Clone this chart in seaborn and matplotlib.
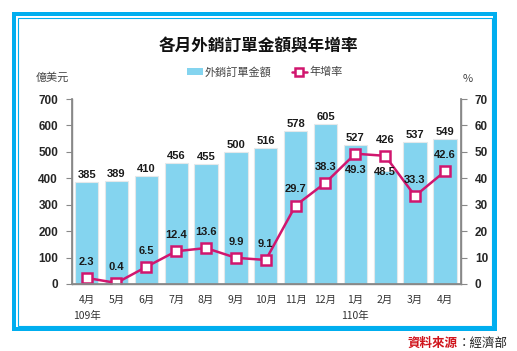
import numpy as np
import pandas as pd
import seaborn as sns
import matplotlib.pyplot as plt
from matplotlib.patches import Rectangle, Patch
from matplotlib.lines import Line2D

# Data
months = ['4月', '5月', '6月', '7月', '8月', '9月', '10月', '11月', '12月',
          '1月', '2月', '3月', '4月']
orders = [385, 389, 410, 456, 455, 500, 516, 578, 605, 527, 426, 537, 549]
growth = [2.3, 0.4, 6.5, 12.4, 13.6, 9.9, 9.1, 29.7, 38.3, 49.3, 48.5, 33.3, 42.6]
years = ['109年', '110年']

sns.set_theme(style="white")
plt.rcParams['font.family'] = ['Noto Sans CJK TC', 'DejaVu Sans']
num_font = ['Liberation Sans Narrow', 'Liberation Sans', 'DejaVu Sans']

bar_color = '#84D4EF'
line_color = '#D1166E'
frame_color = '#00AEEF'

f = plt.figure(figsize=(5.17, 3.51), dpi=100)
W, H = 517, 351

# Frame
f.patches.append(Rectangle((12 / W, 1 - 331 / H), 485 / W, 319 / H,
                           transform=f.transFigure, facecolor=frame_color,
                           edgecolor='none', zorder=-3))
f.patches.append(Rectangle((16 / W, 1 - 327 / H), 477 / W, 311 / H,
                           transform=f.transFigure, facecolor='white',
                           edgecolor='none', zorder=-2))
f.patches.append(Rectangle((17.5 / W, 1 - 325.5 / H), 474 / W, 308 / H,
                           transform=f.transFigure, facecolor='none',
                           edgecolor=frame_color, linewidth=0.8, zorder=-1))

ax = f.add_axes([72 / W, 1 - 284 / H, 389 / W, 185 / H])
ax.patch.set_alpha(0)

df = pd.DataFrame({'month': np.arange(13), 'orders': orders})
sns.barplot(data=df, x='month', y='orders', ax=ax, color=bar_color,
            saturation=1, width=0.78, edgecolor='#E4E8EA', linewidth=0.8,
            native_scale=True)
ax.set_ylim(0, 700)
ax.set_yticks(range(0, 701, 100))
ax.set_xlim(-0.49, 12.54)
ax.set_xticks(range(13))
ax.set_xticklabels(months, fontsize=7.5, color='#333333')
ax.set_xlabel('')
ax.set_ylabel('')
for lab in ax.get_yticklabels():
    lab.set_fontfamily(num_font)
    lab.set_fontweight('bold')
    lab.set_fontsize(8.5)
ax.tick_params(axis='y', left=True, length=4, width=0.8, color='#888888', pad=6)
ax.tick_params(axis='x', bottom=False, pad=2)
ax.spines['top'].set_visible(False)
for s in ['left', 'bottom', 'right']:
    ax.spines[s].set_color('#888888')
    ax.spines[s].set_linewidth(1.0)

# Bar labels (lifted above the growth marker where they would collide)
for i, v in enumerate(orders):
    y = v + 8
    if v < growth[i] * 10 < v + 60:
        y = growth[i] * 10 + 40
    ax.text(i, y, str(v), ha='center', va='bottom', fontsize=8,
            fontweight='bold', family=num_font, color='#1a1a1a')

# Growth line
ax2 = ax.twinx()
sns.lineplot(x=np.arange(13), y=growth, ax=ax2, color=line_color,
             linewidth=1.8, marker='s', markersize=7,
             markerfacecolor='white', markeredgecolor=line_color,
             markeredgewidth=1.8)
ax2.set_ylim(0, 70)
ax2.set_yticks(range(0, 71, 10))
ax2.set_xlim(-0.49, 12.54)
for lab in ax2.get_yticklabels():
    lab.set_fontfamily(num_font)
    lab.set_fontweight('bold')
    lab.set_fontsize(8.5)
ax2.tick_params(axis='y', right=True, length=4, width=0.8, color='#888888', pad=6)
ax2.spines['top'].set_visible(False)
for s in ['left', 'bottom', 'right']:
    ax2.spines[s].set_color('#888888')

for i, v in enumerate(growth):
    below = i in (9, 10)
    ax2.annotate(f'{v:.1f}', (i, v), xytext=(0, -8 if below else 8),
                 textcoords='offset points', ha='center',
                 va='top' if below else 'bottom', fontsize=8,
                 fontweight='bold', family=num_font, color='#1a1a1a')

# Year labels
ax.text(0, -0.145, years[0], transform=ax.get_xaxis_transform(),
        ha='center', va='top', fontsize=7.5, color='#333333')
ax.text(9, -0.145, years[1], transform=ax.get_xaxis_transform(),
        ha='center', va='top', fontsize=7.5, color='#333333')

# Titles and units
f.text(0.5, 1 - 46 / H, '各月外銷訂單金額與年增率', ha='center', va='center',
       fontsize=12, fontweight='bold', color='#111111')
f.text(52 / W, 1 - 78 / H, '億美元', ha='center', va='center', fontsize=8,
       color='#444444')
f.text(468 / W, 1 - 79 / H, '%', ha='center', va='center', fontsize=8,
       color='#444444')

# Legend
handles = [Patch(facecolor=bar_color, edgecolor='none'),
           Line2D([0], [0], color=line_color, linewidth=1.8, marker='s',
                  markersize=6, markerfacecolor='white',
                  markeredgecolor=line_color, markeredgewidth=1.8)]
f.legend(handles, ['外銷訂單金額', '年增率'], loc='center',
         bbox_to_anchor=(265 / W, 1 - 72 / H), ncol=2, frameon=False,
         fontsize=8, handlelength=1.4, handletextpad=0.2, columnspacing=1.8,
         labelcolor='#444444')

# Source
f.text(407 / W, 1 - 343 / H, '資料來源', ha='left', va='center', fontsize=9,
       fontweight='bold', color='#D0141C')
f.text(458 / W, 1 - 343 / H, '：經濟部', ha='left', va='center', fontsize=9,
       color='#222222')

f.savefig('out.png', dpi=100)
